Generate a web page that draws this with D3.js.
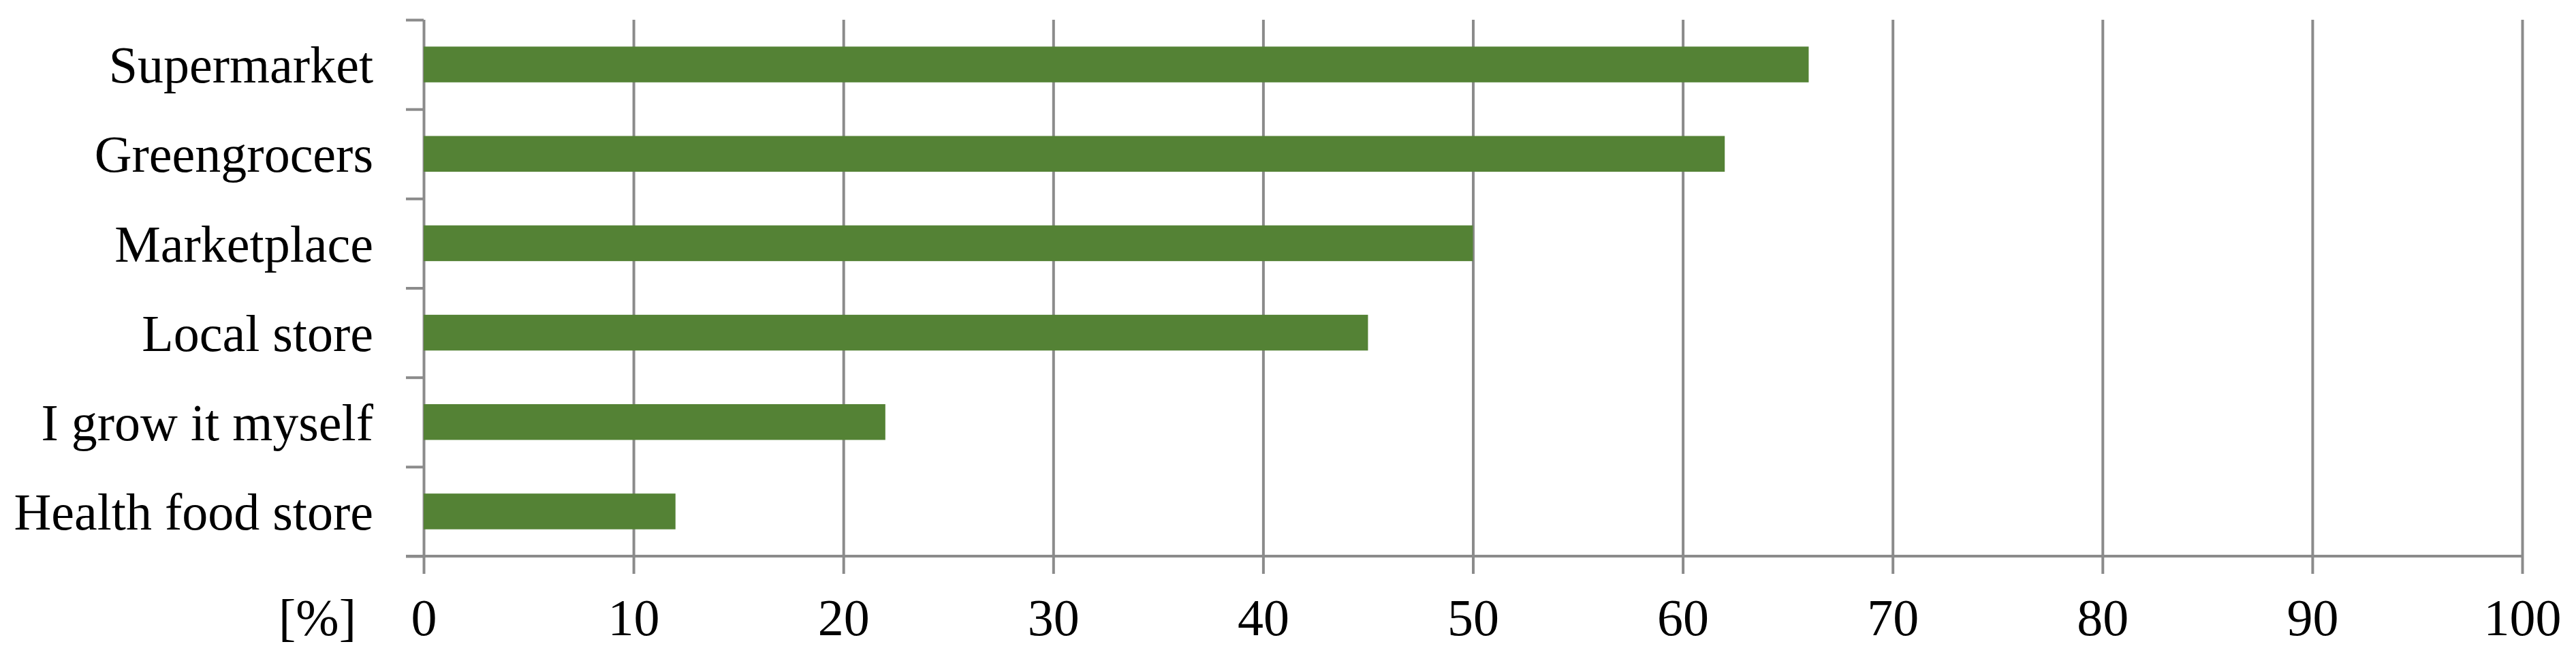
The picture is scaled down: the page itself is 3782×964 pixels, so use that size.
<!DOCTYPE html>
<html>
<head>
<meta charset="utf-8">
<script src="https://cdn.jsdelivr.net/npm/d3@7"></script>
<style>
    body { margin: 0; background: #fff; }
    text { font-family: "Liberation Serif", "Times New Roman", serif; fill: #000; }
</style>
</head>
<body>
<div id="chart"></div>
<script>
// values
const categories = ['Supermarket', 'Greengrocers', 'Marketplace', 'Local store', 'I grow it myself', 'Health food store'];
const shares = [66, 62, 50, 45, 22, 12];
const xTicks = [0, 10, 20, 30, 40, 50, 60, 70, 80, 90, 100];
const unitLabel = '[%]';

const config = {
    containerWidth: 3782,
    containerHeight: 964,
    margin: {top: 29, right: 79, bottom: 148, left: 622},
    tickLength: 26,
    fontSize: 76,
    barColor: '#548235',
    lineColor: '#8b8b8b',
    lineWidth: 4
};

const width = config.containerWidth - config.margin.left - config.margin.right;
const height = config.containerHeight - config.margin.top - config.margin.bottom;

const svg = d3.select('#chart').append('svg')
    .attr('width', config.containerWidth)
    .attr('height', config.containerHeight);

const chart = svg.append('g')
    .attr('transform', `translate(${config.margin.left},${config.margin.top})`);

const x = d3.scaleLinear().domain([0, 100]).range([0, width]);
const y = d3.scaleBand().domain(categories).range([0, height])
    .paddingInner(0.6)
    .paddingOuter(0.3);
// category boundaries, used for the small ticks between categories
const yEdge = d3.scaleLinear().domain([0, categories.length]).range([0, height]);

// vertical gridlines (the one at 0 doubles as the y axis line)
chart.append('g')
    .attr('transform', `translate(0,${height + config.tickLength})`)
    .call(d3.axisBottom(x).tickValues(xTicks).tickFormat('').tickSizeOuter(0)
        .tickSize(-(height + config.tickLength)))
    .call(g => g.select('.domain').remove())
    .call(g => g.selectAll('line')
        .attr('stroke', config.lineColor)
        .attr('stroke-width', config.lineWidth));

// bars
chart.append('g').selectAll('rect')
    .data(categories.map((c, i) => ({cat: c, value: shares[i]})))
    .join('rect')
    .attr('x', x(0))
    .attr('y', d => y(d.cat))
    .attr('width', d => x(d.value) - x(0))
    .attr('height', y.bandwidth())
    .attr('fill', config.barColor);

// ticks between categories
chart.append('g')
    .call(d3.axisLeft(yEdge).tickValues(d3.range(categories.length + 1)).tickFormat('')
        .tickSize(config.tickLength))
    .call(g => g.select('.domain').remove())
    .call(g => g.selectAll('line')
        .attr('stroke', config.lineColor)
        .attr('stroke-width', config.lineWidth));

// horizontal axis line, running under the left tick too
chart.append('line')
    .attr('x1', x(0) - config.tickLength)
    .attr('x2', x(100))
    .attr('y1', height)
    .attr('y2', height)
    .attr('stroke', config.lineColor)
    .attr('stroke-width', config.lineWidth);

// category labels
chart.append('g')
    .call(d3.axisLeft(y).tickSize(0).tickPadding(74))
    .call(g => g.select('.domain').remove())
    .call(g => g.selectAll('text')
        .attr('font-size', config.fontSize)
        .attr('font-family', null)
        .attr('dy', '0.35em'));

// value labels
chart.append('g')
    .attr('transform', `translate(0,${height})`)
    .call(d3.axisBottom(x).tickValues(xTicks).tickSize(0))
    .call(g => g.select('.domain').remove())
    .call(g => g.selectAll('text')
        .attr('font-size', config.fontSize)
        .attr('font-family', null)
        .attr('y', 116)
        .attr('dy', 0));

chart.append('text')
    .attr('x', x(0) - 99)
    .attr('y', height + 116)
    .attr('text-anchor', 'end')
    .attr('font-size', config.fontSize)
    .text(unitLabel);
</script>
</body>
</html>
